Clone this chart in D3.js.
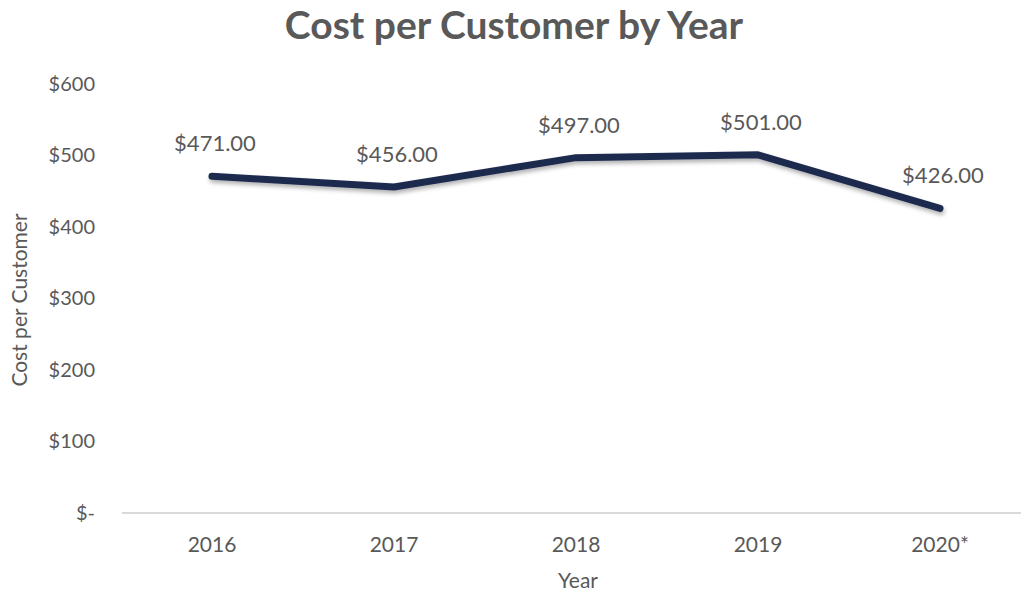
<!DOCTYPE html>
<html>
<head>
<meta charset="utf-8">
<script src="https://cdn.jsdelivr.net/npm/d3@7"></script>
<style>
  body { margin: 0; background: #fff; }
  svg text { font-family: Lato, "Open Sans", sans-serif; fill: #595959; }
</style>
</head>
<body>
<svg id="chart" width="1021" height="594"></svg>
<script>
// datos del grafico
var years = ["2016", "2017", "2018", "2019", "2020*"];
var cost = [471, 456, 497, 501, 426];
var yTicks = [0, 100, 200, 300, 400, 500, 600];

var svg = d3.select("#chart");

// sombra suave de la linea
var defs = svg.append("defs");
var f = defs.append("filter").attr("id", "sombra")
  .attr("x", "-5%").attr("y", "-20%").attr("width", "110%").attr("height", "160%");
f.append("feDropShadow")
  .attr("dx", 1).attr("dy", 3).attr("stdDeviation", 2)
  .attr("flood-color", "#000").attr("flood-opacity", 0.3);

var x = d3.scaleBand().domain(years).range([121, 1031]);
var y = d3.scaleLinear().domain([0, 600]).range([513, 84]);

// titulo
svg.append("text")
  .attr("x", 514).attr("y", 39)
  .attr("text-anchor", "middle")
  .style("font-size", "39px").style("font-weight", "bold")
  .text("Cost per Customer by Year");

// eje Y (solo etiquetas)
var yAxis = d3.axisLeft(y).tickValues(yTicks).tickSize(0).tickPadding(0)
  .tickFormat(function(d) { return d == 0 ? "$-" : "$" + d; });
var gy = svg.append("g").attr("transform", "translate(95,0)").call(yAxis);
gy.select(".domain").remove();
gy.selectAll("text").style("font-size", "20px").style("fill", "#595959");

// linea base
svg.append("line")
  .attr("x1", 122).attr("x2", 1021)
  .attr("y1", y(0)).attr("y2", y(0))
  .attr("stroke", "#d9d9d9").attr("stroke-width", 2);

// eje X
var xAxis = d3.axisBottom(x).tickSize(0).tickPadding(0);
var gx = svg.append("g").attr("transform", "translate(0,537)").call(xAxis);
gx.select(".domain").remove();
gx.selectAll("text").style("font-size", "21px").style("fill", "#595959");

// titulos de ejes
svg.append("text")
  .attr("x", 578).attr("y", 588)
  .attr("text-anchor", "middle")
  .style("font-size", "21px")
  .text("Year");

svg.append("text")
  .attr("transform", "translate(27,300) rotate(-90)")
  .attr("text-anchor", "middle")
  .style("font-size", "21px")
  .text("Cost per Customer");

// linea
var linea = d3.line()
  .x(function(d, i) { return x(years[i]) + x.bandwidth() / 2; })
  .y(function(d) { return y(d); });

svg.append("path")
  .datum(cost)
  .attr("d", linea)
  .attr("fill", "none")
  .attr("stroke", "#1f2b4d")
  .attr("stroke-width", 7)
  .attr("stroke-linecap", "round")
  .attr("stroke-linejoin", "round")
  .attr("filter", "url(#sombra)");

// etiquetas de valores
svg.selectAll(".valor")
  .data(cost)
  .enter()
  .append("text")
  .attr("class", "valor")
  .attr("x", function(d, i) { return x(years[i]) + x.bandwidth() / 2 + 3; })
  .attr("y", function(d) { return y(d) - 25; })
  .attr("text-anchor", "middle")
  .style("font-size", "22px")
  .text(function(d) { return "$" + d3.format(",.2f")(d); });
</script>
</body>
</html>
